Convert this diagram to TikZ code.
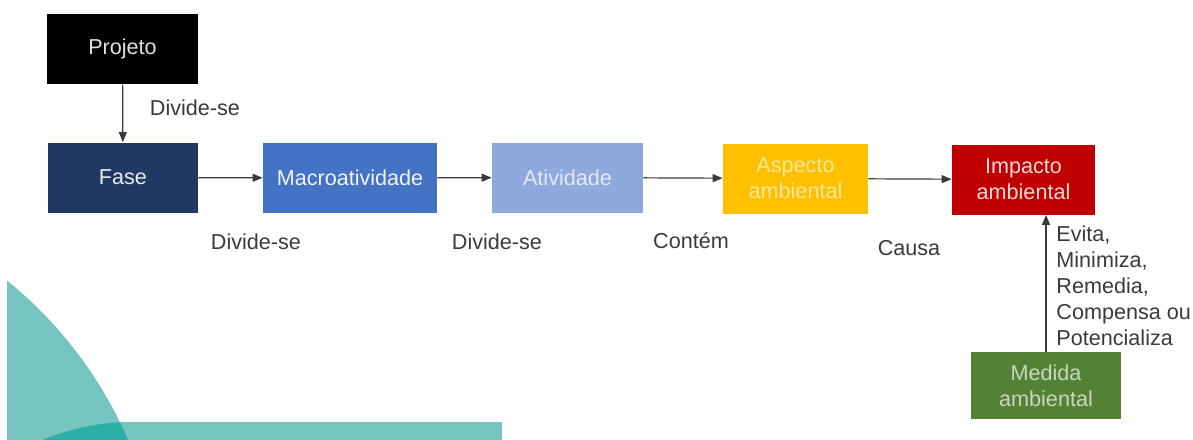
\documentclass[tikz,border=0pt]{standalone}
\usepackage{fontspec}
\setmainfont{Liberation Sans}
\definecolor{faseblue}{HTML}{1F3864}
\definecolor{macroblue}{HTML}{4472C4}
\definecolor{ativblue}{HTML}{8EA9DB}
\definecolor{aspyellow}{HTML}{FFC000}
\definecolor{impred}{HTML}{C00000}
\definecolor{medgreen}{HTML}{548235}
\definecolor{lightteal}{HTML}{76C4C0}
\definecolor{darkteal}{HTML}{2BB0A8}
\definecolor{linegray}{HTML}{3A3A3A}
\usetikzlibrary{arrows.meta}

\begin{document}
\begin{tikzpicture}[x=0.5pt, y=-0.5pt,
    box/.style={rectangle, inner sep=0pt, minimum width=75pt, minimum height=35pt,
                align=center, font=\fontsize{10.8}{13}\selectfont},
    lbl/.style={inner sep=0pt, text=linegray, font=\fontsize{10.8}{13}\selectfont},
    arrow/.style={-{Triangle[length=5pt, width=4pt]}, line width=0.6pt, linegray}
  ]
    \useasboundingbox (0,0) rectangle (1193,439);

    % Background shapes
    \begin{scope}
      \clip (7,0) rectangle (1193,439);
      \fill[lightteal] (-255,605) circle[radius=208.5pt];
      \fill[lightteal] (502,422) -- (125,422) .. controls (95,423) and (65,430) .. (38,442)
        -- (502,442) -- cycle;
      \clip (-255,605) circle[radius=208.5pt];
      \fill[darkteal] (502,422) -- (125,422) .. controls (95,423) and (65,430) .. (38,442)
        -- (502,442) -- cycle;
    \end{scope}

    % Boxes
    \node[box, fill=black, text=white!88!black, minimum width=75.5pt] (proj) at (122.5,49) {Projeto};
    \node[box, fill=faseblue, text=white!90!faseblue] (fase) at (123,177.5) {Fase};
    \node[box, fill=macroblue, text=white!92!macroblue, minimum width=87pt] (macro) at (350,178) {Macroatividade};
    \node[box, fill=ativblue, text=white!75!ativblue, minimum width=75.5pt] (ativ) at (567.5,177.5) {Atividade};
    \node[box, fill=aspyellow, text=white!62!aspyellow, minimum width=72.5pt] (asp) at (795.5,178.5) {Aspecto\\ambiental};
    \node[box, fill=impred, text=white!85!impred, minimum width=71.5pt] (imp) at (1023.5,179.5) {Impacto\\ambiental};
    \node[box, fill=medgreen, text=white!68!medgreen, minimum height=33.5pt] (med) at (1046,385.5) {Medida\\ambiental};

    % Labels
    \node[lbl] (lproj) at (195,108) {Divide-se};
    \node[lbl] (lfase) at (256,242) {Divide-se};
    \node[lbl] (lmacro) at (497,242) {Divide-se};
    \node[lbl] (lativ) at (691,241) {Contém};
    \node[lbl] (lasp) at (909,248) {Causa};
    \node[lbl, anchor=west, align=left] (lmed) at (1056,285.5)
      {Evita,\\Minimiza,\\Remedia,\\Compensa ou\\Potencializa};

    % Arrows
    \draw[arrow] (proj) -- (fase);
    \draw[arrow] (fase) -- (macro);
    \draw[arrow] (macro) -- (ativ);
    \draw[arrow] (ativ) -- (asp);
    \draw[arrow] (asp) -- (imp);
    \draw[arrow] (med.north) -- (med.north |- imp.south);
  \end{tikzpicture}
\end{document}
